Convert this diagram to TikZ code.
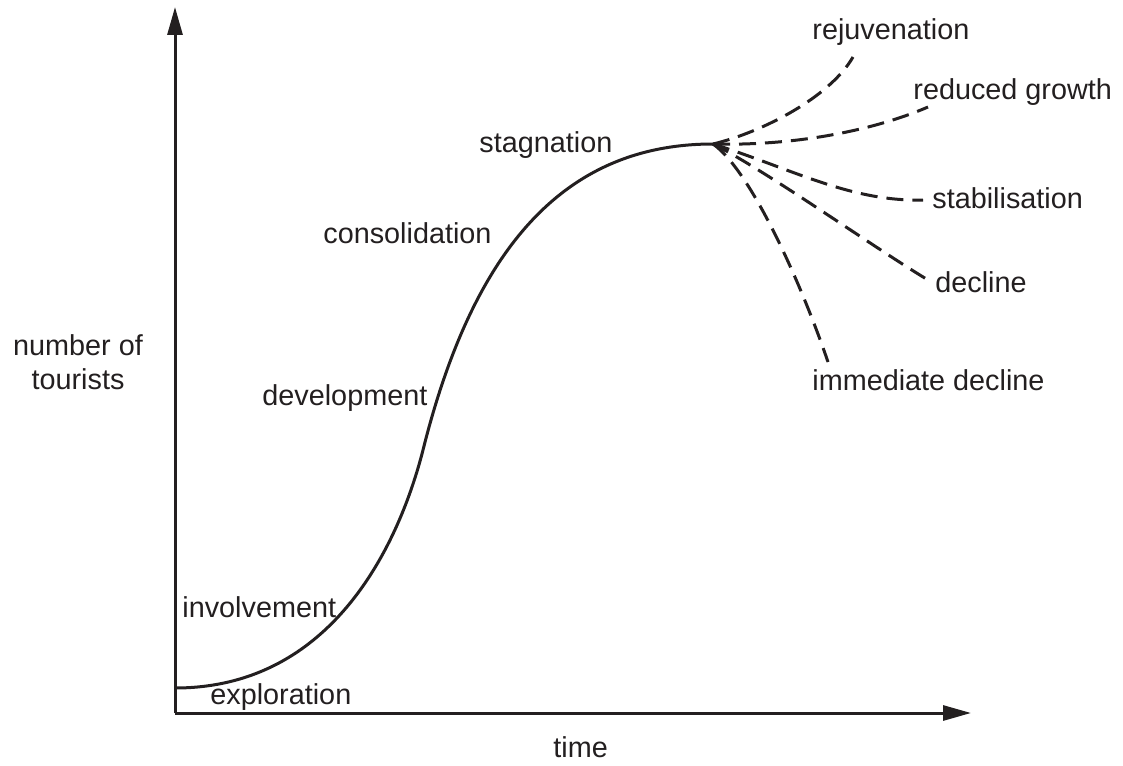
\documentclass[tikz,border=0pt]{standalone}
\usepackage{fontspec}
\setmainfont{Liberation Sans}
\usetikzlibrary{arrows.meta}
\definecolor{ink}{RGB}{35,31,32}

\begin{document}
\begin{tikzpicture}[x=0.5pt, y=-0.5pt,
    axis/.style={ink, line width=1.5pt, -{Triangle[length=14pt, width=7.5pt]}},
    life/.style={ink, line width=1.5pt},
    branch/.style={ink, line width=1.5pt, dash pattern=on 8.5pt off 4.5pt},
    stage/.style={ink, anchor=base west, inner sep=0pt,
      font=\fontsize{14.4pt}{17pt}\selectfont}]
  \useasboundingbox (0, 0) rectangle (1123, 765);

  \coordinate (origin) at (175, 713);
  \coordinate (ytop) at (175, 7);
  \coordinate (xend) at (971, 713);

  \coordinate (start) at (175, 688);
  \coordinate (infl) at (423, 450);
  \coordinate (peak) at (713, 144);

  \coordinate (rejuv) at (853, 57);
  \coordinate (reduced) at (928, 107);
  \coordinate (stable) at (923, 200);
  \coordinate (decl) at (928, 280);
  \coordinate (immed) at (828, 362);

  \draw[axis] (origin) -- (ytop);
  \draw[axis] (origin) -- (xend);

  %% main curve
  \draw[life] (start) .. controls (335, 688) and (400, 540) .. (infl)
    .. controls (473, 250) and (563, 144) .. (peak);

  %% what may come after stagnation
  \draw[branch] (peak) .. controls (763, 132) and (830, 97) .. (rejuv);
  \draw[branch] (peak) .. controls (790, 146) and (870, 132) .. (reduced);
  \draw[branch] (peak) .. controls (790, 168) and (850, 202) .. (stable);
  \draw[branch] (peak) .. controls (765, 170) and (870, 245) .. (decl);
  \draw[branch] (peak) .. controls (750, 170) and (800, 280) .. (immed);

  \node[stage] (exploration) at (210, 704) {exploration};
  \node[stage] (involvement) at (182, 617) {involvement};
  \node[stage] (development) at (262, 405) {development};
  \node[stage] (consolidation) at (323, 243) {consolidation};
  \node[stage] (stagnation) at (479, 152) {stagnation};

  \node[stage] (rejuvenation) at (812, 40) {rejuvenation};
  \node[stage] (growth) at (913, 100) {reduced growth};
  \node[stage] (stabilisation) at (932, 208) {stabilisation};
  \node[stage] (decline) at (935, 292) {decline};
  \node[stage] (immediate) at (812, 390) {immediate decline};

  \node[stage, anchor=center, align=center] (tourists) at (78, 362)
    {number of\\tourists};
  \node[stage] (time) at (553, 757) {time};
\end{tikzpicture}
\end{document}
